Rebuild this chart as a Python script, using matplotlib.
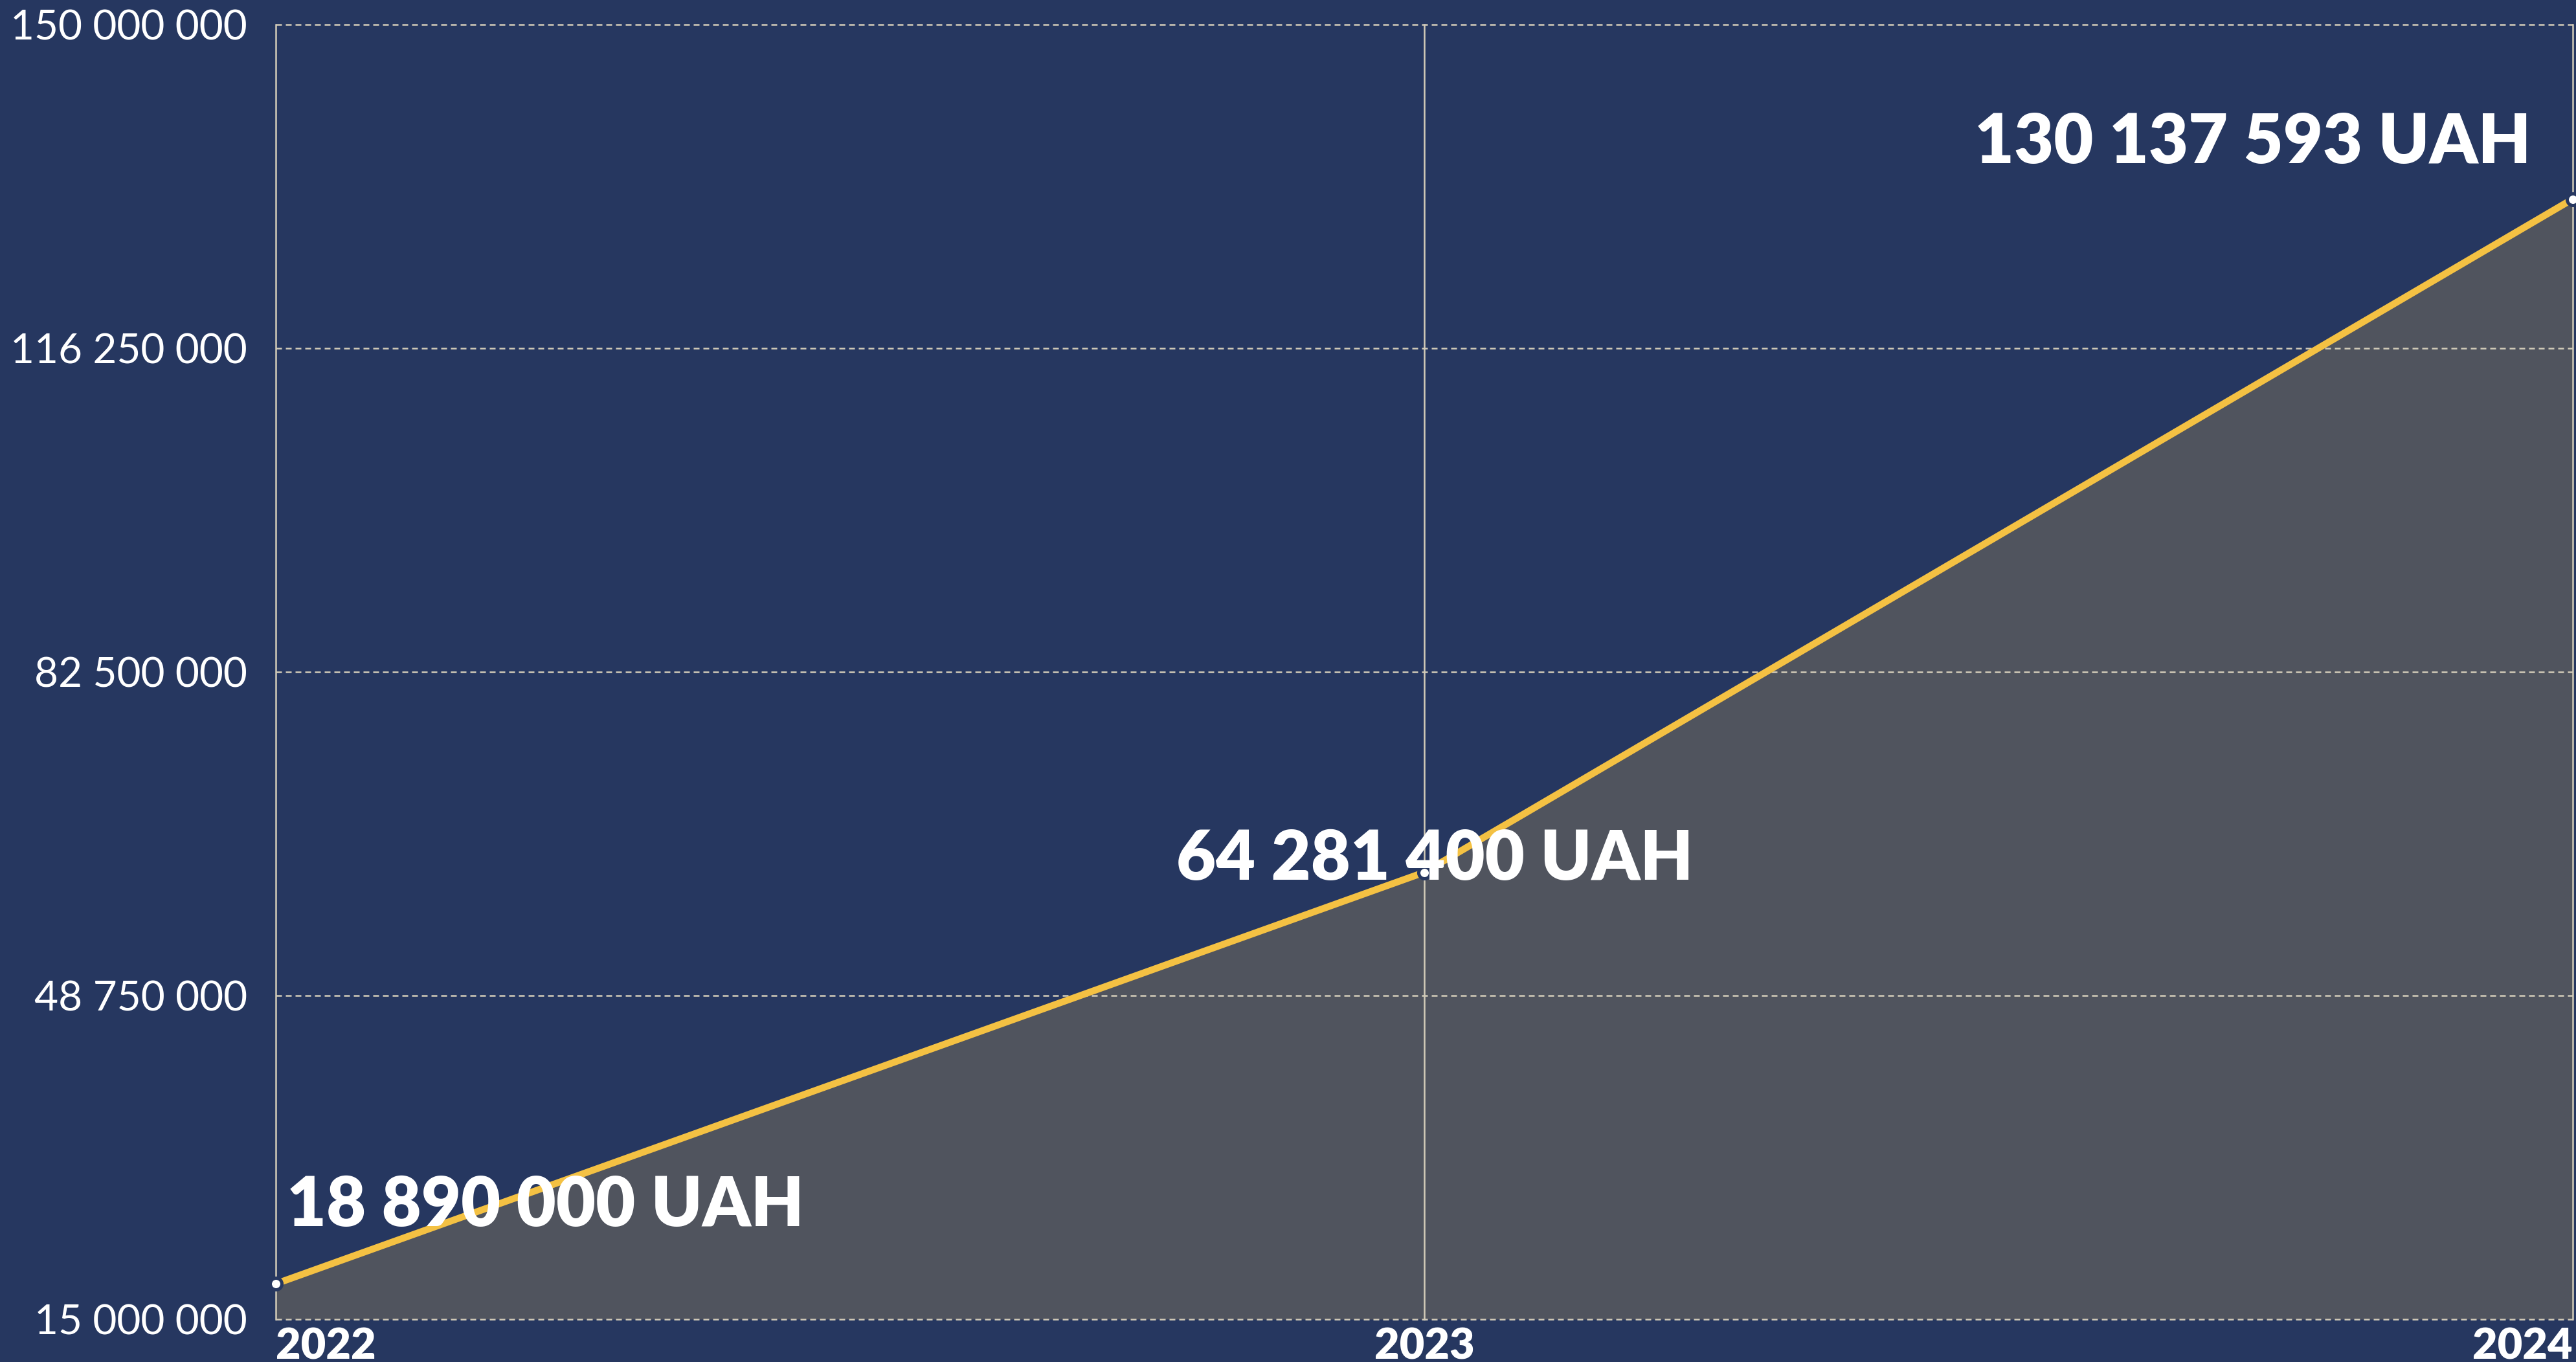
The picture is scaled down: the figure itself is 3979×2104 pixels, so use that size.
import matplotlib.pyplot as plt
from matplotlib.ticker import FuncFormatter

# --- DATA ---
yillar = [2022, 2023, 2024]
# line positions
cizgi_degerleri = [18700000, 61600000, 131800000]
# values written in the labels
etiket_degerleri = [18890000, 64281400, 130137593]
y_isaretleri = [15000000, 48750000, 82500000, 116250000, 150000000]

# --- COLORS ---
ARKA_PLAN = '#263760'
DOLGU = '#50545e'
CIZGI = '#f4c143'
IZGARA = '#d3ccb9'


def bosluklu(v):
    return f"{int(v):,}".replace(",", " ")


plt.rcParams['font.family'] = ['Lato', 'DejaVu Sans']

fig = plt.figure(figsize=(3979 / 200, 2104 / 200), dpi=200, facecolor=ARKA_PLAN)
ax = fig.add_axes([0.1071, 0.0314, 0.8916, 0.9506])
ax.set_facecolor(ARKA_PLAN)

ax.fill_between(yillar, cizgi_degerleri, y_isaretleri[0], color=DOLGU, zorder=1, linewidth=0)

# grid lines
for y in y_isaretleri:
    ax.axhline(y, color=IZGARA, linewidth=0.9, linestyle=(0, (3.6, 2.4)), zorder=2, clip_on=False)
for x in yillar:
    ax.axvline(x, color=IZGARA, linewidth=0.9, zorder=2, clip_on=False)

ax.plot(yillar, cizgi_degerleri, color=CIZGI, linewidth=3.8, zorder=3, solid_capstyle='round')
ax.plot(yillar, cizgi_degerleri, linestyle='none', marker='o', markersize=6.5,
        markerfacecolor='white', markeredgecolor=ARKA_PLAN, markeredgewidth=1.8,
        zorder=4, clip_on=False)

# value labels
ofsetler = [(6, 32), (6, -4), (-23, 20)]
hizalar = ['left', 'center', 'right']
for x, y, deger, ofs, ha in zip(yillar, cizgi_degerleri, etiket_degerleri, ofsetler, hizalar):
    ax.annotate(bosluklu(deger) + " UAH", (x, y), xytext=ofs, textcoords='offset points',
                ha=ha, va='baseline', color='white', fontsize=38,
                fontweight='heavy', zorder=5)

ax.set_xlim(yillar[0], yillar[-1])
ax.set_ylim(y_isaretleri[0], y_isaretleri[-1])

ax.set_yticks(y_isaretleri)
ax.yaxis.set_major_formatter(FuncFormatter(lambda v, p: bosluklu(v)))
ax.tick_params(axis='y', length=0, pad=16, labelsize=23, labelcolor='white')

ax.set_xticks(yillar)
ax.set_xticklabels([str(y) for y in yillar])
ax.tick_params(axis='x', length=0, pad=4, labelsize=24, labelcolor='white')
for lbl, ha in zip(ax.get_xticklabels(), ['left', 'center', 'right']):
    lbl.set_fontweight('heavy')
    lbl.set_horizontalalignment(ha)

for s in ax.spines.values():
    s.set_visible(False)

fig.savefig('out.png', dpi=200, facecolor=ARKA_PLAN)
